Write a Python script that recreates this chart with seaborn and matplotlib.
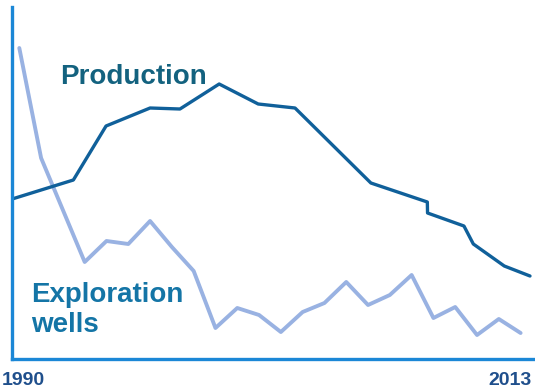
import pandas as pd
import seaborn as sns
import matplotlib.pyplot as plt

# exploration wells, one value per year (arbitrary units)
well_years = list(range(1990, 2014))
well_values = [311, 201, 149, 97, 118, 115, 138, 112, 88, 31, 51, 44,
               27, 47, 56, 77, 54, 64, 84, 41, 52, 24, 40, 26]

# production, drawn on its own (irregular) time points
prod_years = [1989.67, 1992.48, 1993.98, 1996.0, 1997.37, 1999.17, 2000.96,
              2002.65, 2006.13, 2008.72, 2008.73, 2010.4, 2010.83, 2012.25, 2013.43]
prod_values = [160, 179, 233, 251, 250, 275, 255, 251, 176, 157, 146, 133,
               115, 93, 83]

wells_df = pd.DataFrame({'year': well_years, 'value': well_values})
prod_df = pd.DataFrame({'year': prod_years, 'value': prod_values})

sns.set_style('white')
plt.rcParams['font.family'] = ['Liberation Sans', 'DejaVu Sans']

fig = plt.figure(figsize=(5.35, 3.89), dpi=100)
ax = fig.add_axes([12 / 535, 30 / 389, 523 / 535, 352 / 389])

sns.lineplot(x='year', y='value', data=wells_df, ax=ax, color='#99b2e2',
             linewidth=2.8, sort=False)
sns.lineplot(x='year', y='value', data=prod_df, ax=ax, color='#10609a',
             linewidth=2.4, sort=False)

ax.set_xlim(1989.665, 2013.66)
ax.set_ylim(0, 352)
ax.set_xticks([])
ax.set_yticks([])
ax.set_xlabel('')
ax.set_ylabel('')
for side in ['top', 'right']:
    ax.spines[side].set_visible(False)
for side in ['left', 'bottom']:
    ax.spines[side].set_color('#1b87d6')
    ax.spines[side].set_linewidth(2.4)

fig.text(60 / 535, (389 - 83.5) / 389, 'Production', fontsize=20,
         fontweight='bold', color='#13627f', va='baseline', ha='left')
fig.text(31 / 535, (389 - 301.5) / 389, 'Exploration', fontsize=20,
         fontweight='bold', color='#1475a6', va='baseline', ha='left')
fig.text(31 / 535, (389 - 331.5) / 389, 'wells', fontsize=20,
         fontweight='bold', color='#1475a6', va='baseline', ha='left')

fig.text(2 / 535, (389 - 385) / 389, '1990', fontsize=14, fontweight='bold',
         color='#1f4f8c', va='baseline', ha='left')
fig.text(532 / 535, (389 - 385) / 389, '2013', fontsize=14, fontweight='bold',
         color='#1f4f8c', va='baseline', ha='right')

fig.savefig('out.png', dpi=100)
